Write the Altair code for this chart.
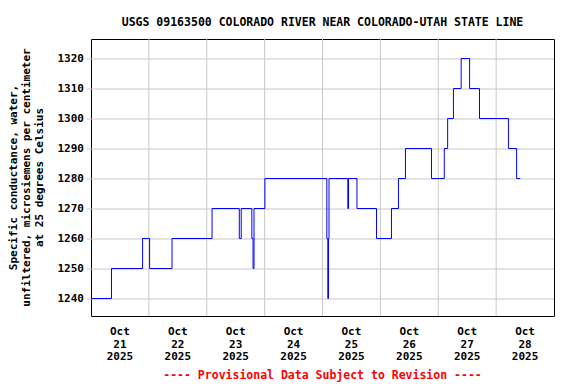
import altair as alt
import pandas as pd

# Hours since 2025-10-21 00:00 where the value changes (step series)
hours = [0, 8.5, 21.4, 24.3, 33.6, 50.2, 61.5, 62.3, 66.7, 67.2, 67.6, 72.1,
         97.8, 98.2, 98.5, 98.7, 106.5, 106.8, 110.3, 118.4, 124.6, 127.5,
         130.4, 141.2, 146.5, 147.9, 150.3, 153.5, 157.0, 161.1, 173.1, 176.5, 178.0]
values = [1240, 1250, 1260, 1250, 1260, 1270, 1260, 1270, 1260, 1250, 1270, 1280,
          1260, 1240, 1260, 1280, 1270, 1280, 1270, 1260, 1270, 1280,
          1290, 1280, 1290, 1300, 1310, 1320, 1310, 1300, 1290, 1280, 1280]

day_labels = ["21", "22", "23", "24", "25", "26", "27", "28"]
month_label = "Oct"
year_label = "2025"
y_ticks = [1240, 1250, 1260, 1270, 1280, 1290, 1300, 1310, 1320]
grid_hours = [24, 48, 72, 96, 120, 144, 168]
label_hours = [12 + 24 * i for i in range(len(day_labels))]

FONT = "DejaVu Sans Mono"

df = pd.DataFrame({"h": hours, "v": values})
grid_df = pd.DataFrame({"h": grid_hours})

days_js = "[" + ",".join("'%s'" % d for d in day_labels) + "]"
label_expr = "['%s', %s[floor(datum.value / 24)], '%s']" % (month_label, days_js, year_label)

xscale = alt.Scale(domain=[0, 192], nice=False, zero=False)
yscale = alt.Scale(domain=[1234.1667, 1326.5], nice=False, zero=False)

x_axis = alt.Axis(values=label_hours, labelExpr=label_expr, grid=False, ticks=False,
                  domain=False, labelFont=FONT, labelFontSize=11, labelFontWeight="bold",
                  labelColor="black", labelLineHeight=12.5, labelPadding=10,
                  labelBaseline="top", labelAlign="center", translate=0,
                  title="---- Provisional Data Subject to Revision ----",
                  titleColor="#ff0000", titleFont=FONT, titleFontSize=11.5,
                  titleFontWeight="bold", titleBaseline="alphabetic", titleY=63)

y_axis = alt.Axis(values=y_ticks, format="d", grid=True, gridColor="#c8c8c8", gridWidth=1,
                  tickSize=4, tickColor="#c8c8c8", domain=False, translate=0,
                  labelFont=FONT, labelFontSize=11, labelFontWeight="bold",
                  labelColor="black", labelPadding=3,
                  title=["Specific conductance, water,",
                         "unfiltered, microsiemens per centimeter",
                         "at 25 degrees Celsius"],
                  titleFont=FONT, titleFontSize=11, titleFontWeight="bold",
                  titleColor="black", titleLineHeight=13, titleAngle=270,
                  titleAlign="center", titleBaseline="middle",
                  titleX=-77, titleY=138.5)

grid = alt.Chart(grid_df).mark_rule(color="#c8c8c8", strokeWidth=1).encode(
    x=alt.X("h:Q", scale=xscale, axis=x_axis)
)

line = alt.Chart(df).mark_line(color="#0000ff", strokeWidth=1, interpolate="step-after").encode(
    x=alt.X("h:Q", scale=xscale, axis=x_axis),
    y=alt.Y("v:Q", scale=yscale, axis=y_axis),
)

chart = alt.layer(grid, line).properties(
    width=463, height=277,
    autosize=alt.AutoSizeParams(type="none"),
    padding={"left": 83, "top": 31, "right": 14, "bottom": 68},
    title=alt.TitleParams("USGS 09163500 COLORADO RIVER NEAR COLORADO-UTAH STATE LINE",
                          font=FONT, fontSize=11.5, fontWeight="bold", color="black",
                          anchor="middle", frame="group", baseline="alphabetic",
                          offset=13, dy=12),
).configure(background="white").configure_view(stroke="black", strokeWidth=1)

chart.save("out.html", embed_options={"renderer": "svg", "actions": False})
